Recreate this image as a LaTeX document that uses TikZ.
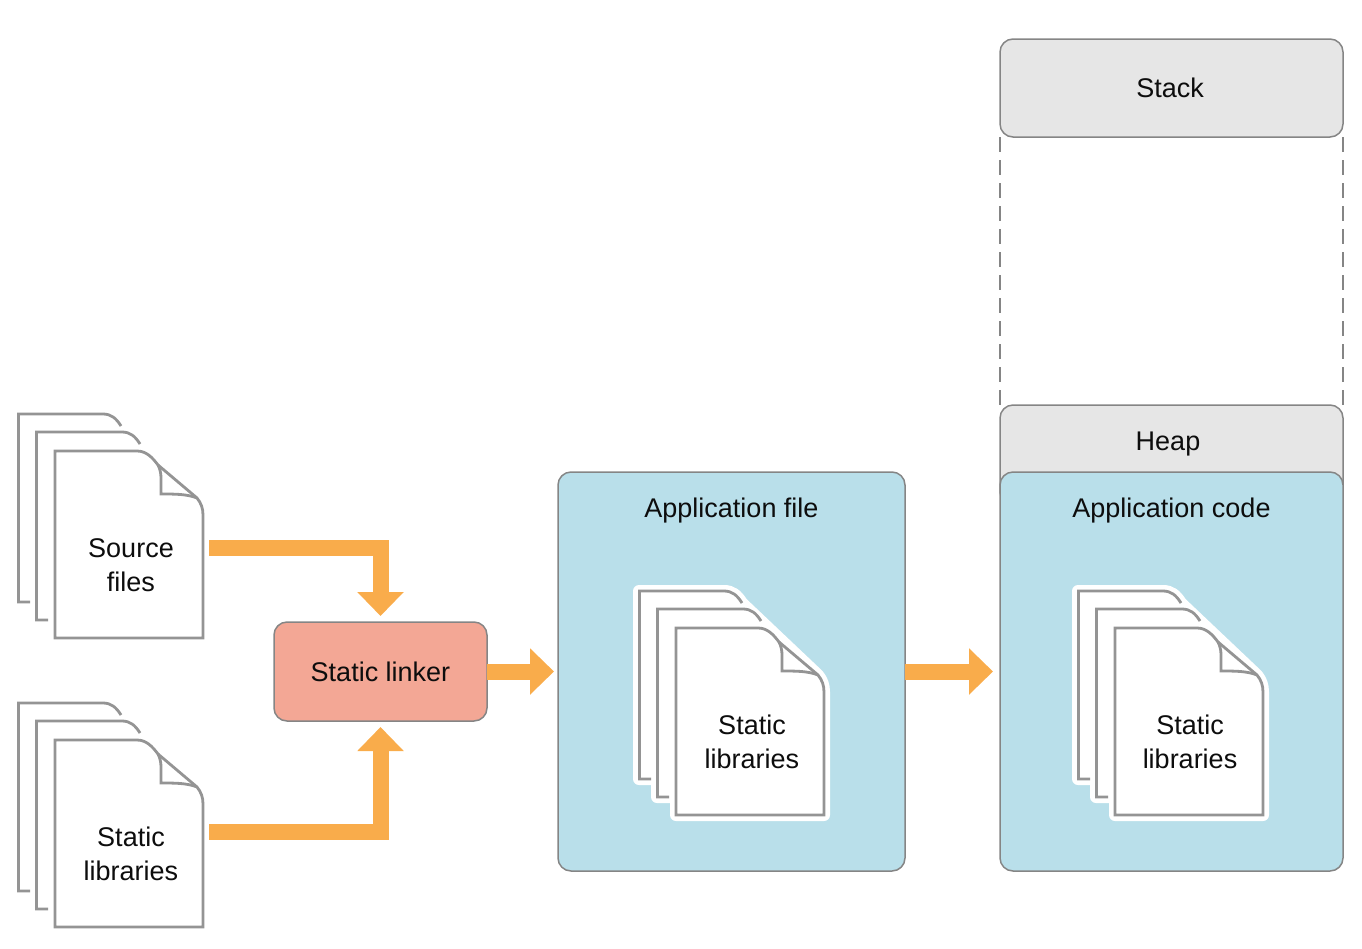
\documentclass[tikz,border=0pt]{standalone}
\usepackage{fontspec}
\setmainfont{Liberation Sans}
\usetikzlibrary{arrows.meta}
\definecolor{flowc}{HTML}{F9AC4B}
\definecolor{panelc}{HTML}{B9DFEA}
\definecolor{greyc}{HTML}{E6E6E6}
\definecolor{linkc}{HTML}{F3A795}
\definecolor{edgec}{HTML}{858585}
\definecolor{pagec}{HTML}{949494}
\tikzset{
  every node/.style={font=\fontsize{27}{33.5}\selectfont,text=black!95,align=center,inner sep=0pt,outer sep=0pt},
  box/.style={draw=edgec,line width=1.5pt,rounded corners=13pt},
  panel/.style={box,fill=panelc,minimum width=#1,minimum height=399pt},
  greybox/.style={box,fill=greyc,minimum width=343pt},
  flow/.style={draw=flowc,line width=16pt,-{Triangle[width=45pt,length=24pt]}},
  guide/.style={draw=edgec,line width=1.2pt,dash pattern=on 15pt off 8pt},
  page/.style={draw=pagec,line width=2.8pt,line join=miter},
  halo/.style={draw=white,fill=white,line width=12pt,line join=round},
  doclabel/.style={minimum width=152pt,minimum height=146pt}
}
\newcommand{\pagestack}[2]{%
  \begin{scope}[shift={(#1,#2)}]
    \draw[page] (30,602) -- (18.5,602) -- (18.5,414) -- (103,414) .. controls (111,414) and (116,418) .. (121,426);
    \draw[page] (48,620) -- (36.5,620) -- (36.5,432) -- (122,432) .. controls (130,432) and (135,436) .. (140,444);
    \draw[page,fill=white] (55,451) -- (137,451) .. controls (146,451) and (152,457) .. (158,465)
      -- (197,498) .. controls (201,503) and (203,508) .. (203,515) -- (203,638) -- (55,638) -- cycle;
    \draw[page] (158,465) .. controls (160,469) and (161,473) .. (161,478) -- (161,494)
      .. controls (175,494) and (187,494) .. (197,498);
  \end{scope}}
\newcommand{\halostack}[2]{%
  \begin{scope}[shift={(#1,#2)}]
    \draw[halo] (18,414) -- (103,414) .. controls (111,414) and (116,418) .. (121,426)
      -- (197,498) .. controls (201,503) and (203,508) .. (203,515) -- (203,638) -- (55,638)
      -- (55,620) -- (36,620) -- (36,602) -- (18,602) -- cycle;
  \end{scope}}
\begin{document}
\begin{tikzpicture}[x=1pt,y=-1pt]
  \useasboundingbox (0,0) rectangle (1362,948);
  % memory column
  \node[greybox,minimum height=98pt] (stack) at (1171.5,88) {};
  \node (stacklabel) at (1170,88) {Stack};
  \node[greybox,minimum height=100pt] (heap) at (1171.5,455) {};
  \node (heaplabel) at (1168,444) {Heap};
  \draw[guide] (stack.south west) -- (heap.north west);
  \draw[guide] (stack.south east) -- (heap.north east);
  % panels
  \node[panel=347pt] (appfile) at (731.5,671.5) {};
  \node[panel=343pt] (appcode) at (1171.5,671.5) {};
  \node (appfiletitle) at (731.5,511) {Application file};
  \node (appcodetitle) at (1171.5,511) {Application code};
  % page stacks
  \pagestack{0}{0}
  \pagestack{0}{289}
  \halostack{621}{177}
  \pagestack{621}{177}
  \halostack{1060}{177}
  \pagestack{1060}{177}
  \node[doclabel] (src) at (131,565) {Source\\files};
  \node[doclabel] (lib) at (131,854) {Static\\libraries};
  \node (applib) at (752,742) {Static\\libraries};
  \node (codelib) at (1190,742) {Static\\libraries};
  % linker
  \node[box,fill=linkc,minimum width=213pt,minimum height=99pt] (lnk) at (380.5,671.5) {Static linker};
  % flows
  \draw[flow] ([xshift=2pt,yshift=17pt]src.east) -| ([yshift=6pt]lnk.north);
  \draw[flow] ([xshift=2pt,yshift=22pt]lib.east) -| ([yshift=-6pt]lnk.south);
  \draw[flow] (lnk.east) -- ([xshift=-4pt]appfile.west);
  \draw[flow] (appfile.east) -- ([xshift=-7pt]appcode.west);
\end{tikzpicture}
\end{document}
